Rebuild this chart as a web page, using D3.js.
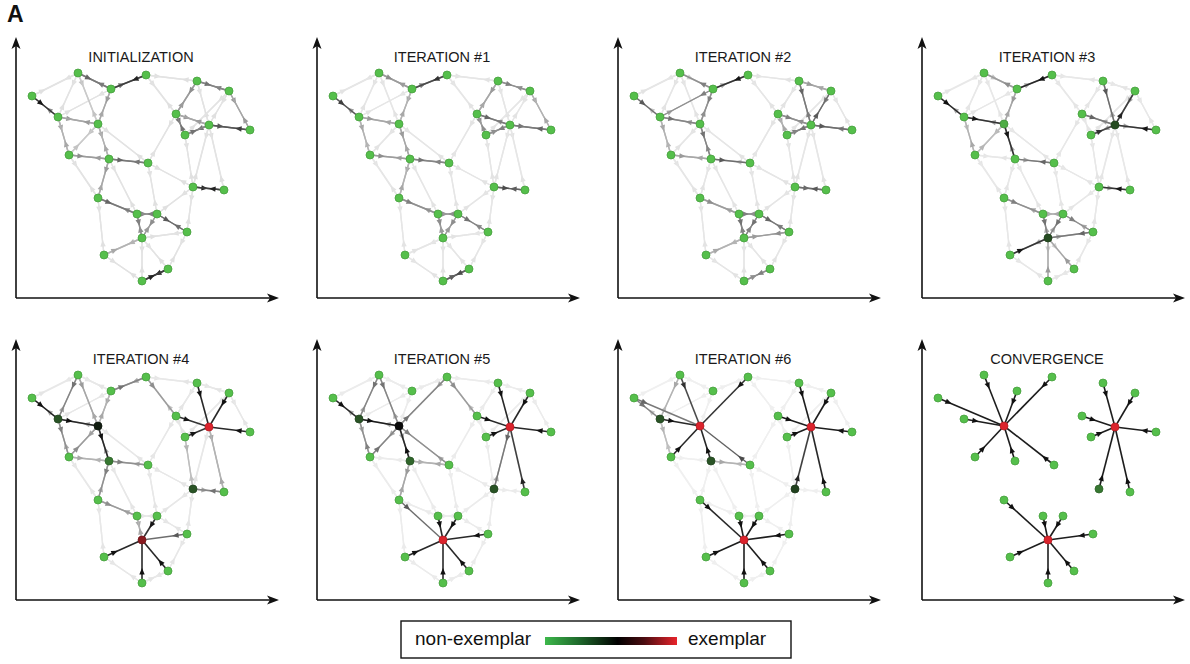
<!DOCTYPE html>
<html><head><meta charset="utf-8">
<script src="https://d3js.org/d3.v7.min.js"></script>
<style>body{margin:0;background:#fff}svg{display:block}text{font-family:"Liberation Sans",Arial,sans-serif}</style>
</head><body><svg id="c" width="1190" height="664"></svg>
<script>
// ---- data ----
const nodeIds = d3.range(1, 26);
const nodeX = [62,130,95,16,42,82,53,93,132,181,213,160,193,234,169,177,208,82,121,141,171,126,88,152,126];
const nodeY = [225,223,209,202,181,174,143,139,135,217,207,184,173,168,163,111,108,100,84,84,66,60,43,29,17];

const graphEdges = [[1,3],[2,3],[1,5],[1,4],[4,5],[5,6],[1,6],[3,6],[3,5],[5,7],[6,7],[6,8],[7,8],[8,9],[2,10],[2,12],
  [10,11],[10,12],[10,13],[11,13],[11,14],[12,15],[13,15],[13,14],[12,13],[9,16],[16,17],[13,16],[15,16],[13,17],[9,12],
  [8,18],[7,18],[18,19],[19,20],[20,21],[19,22],[20,22],[16,21],[21,22],[21,24],[22,24],[22,23],[23,25],[24,25],[18,23],
  [22,25],[9,20],[8,19],[16,20],[6,9],[11,15]];

const panelTitles = ["INITIALIZATION","ITERATION #1","ITERATION #2","ITERATION #3","ITERATION #4","ITERATION #5","ITERATION #6","CONVERGENCE"];
const defaultLevels = [0.09,0.08,0.08,0.07,0.07,0.05,0.035,0];

// node exemplar-ness: 0 = non-exemplar (green), 0.5 = black, 1 = exemplar (red)
const scoresInit  = [0,0,0,0,0,0,0,0,0,0,0,0,0,0,0,0,0,0,0,0,0,0,0,0,0];
const scoresIter1 = [0,0,0,0,0,0,0,0,0,0,0,0,0,0,0,0,0,0,0,0,0,0,0,0,0];
const scoresIter2 = [0,0,0,0,0,0,0,0,0,0,0,0,0,0,0,0,0,0,0,0,0,0,0,0,0];
const scoresIter3 = [0,0,0,0,0,0.05,0,0,0,0,0,0,0.32,0,0,0,0,0,0,0,0,0.32,0,0,0];
const scoresIter4 = [0,0,0,0,0.3,0.45,0,0.2,0,0,0,0,1,0,0,0.3,0,0,0,0,0,0.8,0,0,0];
const scoresIter5 = [0,0,0,0,0.3,0.5,0,0.25,0,0,0,0,1,0,0,0.3,0,0,0,0,0,1,0,0,0];
const scoresIter6 = [0,0,0,0,0.3,1,0,0.3,0,0,0,0,1,0,0,0.35,0,0,0,0,0,1,0,0,0];
const scoresConv  = [0,0,0,0,0,1,0,0,0,0,0,0,1,0,0,0.2,0,0,0,0,0,1,0,0,0];

// messages: [a, b, level a->b, level b->a]
const msgsInit = [[1,3,0.55,0.45],[2,3,0.8,0.5],[4,5,0.85,0.4],[5,6,0.35,0.35],[3,6,0.35,0.3],[1,6,0.2,0.2],[6,8,0.3,0.3],
  [5,7,0.3,0.3],[7,8,0.4,0.35],[8,9,0.55,0.5],[6,7,0.2,0.2],[10,11,0.5,0.45],[10,12,0.4,0.35],[12,15,0.5,0.5],[12,13,0.35,0.35],
  [13,15,0.5,0.5],[13,14,0.6,0.7],[11,14,0.35,0.35],[16,17,0.8,0.8],[8,18,0.35,0.3],[18,19,0.55,0.4],[19,20,0.45,0.45],
  [20,21,0.6,0.5],[19,22,0.45,0.4],[20,22,0.4,0.35],[24,25,0.8,0.8],[22,23,0.25,0.3]];
const msgsIter1 = [[1,3,0.4,0.35],[2,3,0.75,0.45],[4,5,0.7,0.35],[5,6,0.35,0.3],[3,6,0.3,0.3],[6,8,0.35,0.3],[5,7,0.3,0.25],
  [7,8,0.4,0.3],[8,9,0.5,0.45],[10,11,0.45,0.4],[10,12,0.35,0.3],[12,15,0.4,0.4],[12,13,0.55,0.4],[13,15,0.45,0.4],
  [13,14,0.5,0.55],[11,14,0.3,0.3],[16,17,0.65,0.6],[8,18,0.3,0.3],[18,19,0.45,0.35],[19,20,0.4,0.4],[20,21,0.5,0.4],
  [19,22,0.4,0.35],[20,22,0.4,0.35],[24,25,0.65,0.6]];
const msgsIter2 = [[2,3,0.85,0.3],[1,3,0.15,0.45],[3,5,0.45,0.3],[5,6,0.5,0.35],[3,6,0.45,0.4],[6,8,0.5,0.4],[7,8,0.35,0.3],
  [5,7,0.3,0.25],[8,9,0.6,0.2],[4,5,0.6,0.2],[10,13,0.55,0.45],[12,13,0.45,0.4],[13,14,0.6,0.45],[13,15,0.5,0.45],
  [11,13,0.45,0.6],[10,11,0.35,0.3],[16,17,0.55,0.6],[12,15,0.3,0.3],[18,19,0.4,0.3],[19,20,0.45,0.4],[20,21,0.55,0.45],
  [19,22,0.5,0.45],[20,22,0.5,0.45],[21,22,0.4,0.35],[24,25,0.45,0.4],[22,23,0.25,0.3]];
const msgsIter3 = [[2,3,0.9,0.3],[4,5,0.9,0.3],[5,6,0.85,0.35],[6,8,0.85,0.3],[8,9,0.3,0.55],[3,6,0.35,0.3],[1,3,0.2,0.4],
  [5,7,0.2,0.3],[6,7,0.25,0.25],[10,13,0.6,0.3],[11,13,0.3,0.8],[13,14,0.3,0.85],[12,13,0.55,0.3],[15,13,0.75,0.3],
  [16,17,0.3,0.85],[23,22,0.85,0.3],[21,22,0.55,0.3],[19,22,0.5,0.3],[20,22,0.5,0.3],[20,21,0.45,0.3],[18,19,0.45,0.3],
  [19,20,0.3,0.3],[22,25,0.15,0.35],[22,24,0.15,0.35]];
const msgsIter4 = [[4,5,0.95,0.3],[5,6,0.9,0.3],[6,8,0.9,0.3],[1,5,0.5,0.3],[1,6,0.35,0.3],[5,7,0.45,0.3],[7,6,0.4,0.3],
  [3,2,0.5,0.3],[8,9,0.45,0.3],[7,8,0.3,0.25],[3,6,0.3,0.3],[10,13,0.9,0],[11,13,0.9,0],[12,13,0.85,0],[14,13,0.9,0],
  [15,13,0.85,0],[2,12,0.4,0.2],[13,17,0.3,0.3],[17,16,0.5,0.3],[15,16,0.25,0.2],[23,22,0.9,0],[24,22,0.9,0],[25,22,0.9,0],
  [20,22,0.85,0],[21,22,0.6,0],[19,22,0.3,0.3],[18,19,0.4,0.3],[8,18,0.45,0.3]];
const msgsIter5 = [[4,5,0.9,0.3],[5,6,0.95,0.3],[8,6,0.9,0.3],[1,5,0.5,0.3],[1,6,0.5,0.3],[7,5,0.45,0.3],[7,6,0.5,0.3],
  [6,2,0.5,0.3],[6,9,0.45,0.3],[8,9,0.3,0.3],[8,18,0.35,0.3],[2,12,0.4,0.2],[10,13,0.9,0],[11,13,0.9,0],[12,13,0.9,0],
  [14,13,0.9,0],[15,13,0.9,0],[13,16,0.55,0.3],[17,13,0.8,0],[18,22,0.6,0],[19,22,0.9,0],[20,22,0.9,0],[21,22,0.9,0],
  [23,22,0.9,0],[24,22,0.9,0],[25,22,0.9,0]];
const msgsIter6 = [[1,6,0.75,0],[2,6,0.85,0],[4,6,0.55,0],[5,6,0.9,0],[7,6,0.9,0],[8,6,0.9,0],[9,6,0.65,0],[4,5,0.5,0.2],
  [1,5,0.3,0.2],[5,7,0.25,0.2],[8,9,0.3,0.2],[10,13,0.95,0],[11,13,0.95,0],[12,13,0.95,0],[14,13,0.95,0],[15,13,0.95,0],
  [16,13,0.8,0],[17,13,0.9,0],[18,22,0.9,0],[19,22,0.95,0],[20,22,0.95,0],[21,22,0.95,0],[23,22,0.95,0],[24,22,0.95,0],
  [25,22,0.95,0]];
const msgsConv = [[1,6,0.95,0],[2,6,0.95,0],[3,6,0.95,0],[4,6,0.95,0],[5,6,0.95,0],[7,6,0.95,0],[8,6,0.95,0],[9,6,0.95,0],
  [10,13,0.95,0],[11,13,0.95,0],[12,13,0.95,0],[14,13,0.95,0],[15,13,0.95,0],[16,13,0.95,0],[17,13,0.95,0],
  [18,22,0.95,0],[19,22,0.95,0],[20,22,0.95,0],[21,22,0.95,0],[23,22,0.95,0],[24,22,0.95,0],[25,22,0.95,0]];

const panelScores = [scoresInit,scoresIter1,scoresIter2,scoresIter3,scoresIter4,scoresIter5,scoresIter6,scoresConv];
const panelMsgs = [msgsInit,msgsIter1,msgsIter2,msgsIter3,msgsIter4,msgsIter5,msgsIter6,msgsConv];
const legendLabels = ["non-exemplar","exemplar"];

// ---- layout ----
const svg = d3.select("#c");
const colOffsets = [0,301,602,906], rowOffsets = [0,302];
const xScale = d3.scaleLinear().domain([0,260]).range([16,276]);
const yScale = d3.scaleLinear().domain([0,260]).range([298,38]);
const nodeColor = d3.scaleLinear().domain([0,0.5,1]).range(["#55bf4b","#0b0b0b","#db232c"]);
const grayColor = d3.scaleLinear().domain([0,1]).range(["#f8f8f8","#111111"]);

svg.append("text").attr("x",7).attr("y",22).attr("font-size",23).attr("font-weight","bold").attr("fill","#111").text("A");

panelTitles.forEach((title, p) => {
  const g = svg.append("g").attr("transform", `translate(${colOffsets[p%4]},${rowOffsets[Math.floor(p/4)]})`);
  const x0 = xScale.range()[0], y0 = yScale.range()[0];
  const xEnd = xScale.range()[1] + 3, yEnd = yScale.range()[1] - 1;
  // axes
  g.append("line").attr("x1",x0).attr("y1",y0).attr("x2",x0).attr("y2",yEnd+6).attr("stroke","#111").attr("stroke-width",1.6);
  g.append("line").attr("x1",x0).attr("y1",y0).attr("x2",xEnd-6).attr("y2",y0).attr("stroke","#111").attr("stroke-width",1.6);
  g.append("path").attr("d",`M${x0},${yEnd} L${x0-4.5},${yEnd+12} L${x0},${yEnd+9} L${x0+4.5},${yEnd+12} Z`).attr("fill","#111");
  g.append("path").attr("d",`M${xEnd},${y0} L${xEnd-12},${y0-4.5} L${xEnd-9},${y0} L${xEnd-12},${y0+4.5} Z`).attr("fill","#111");
  g.append("text").attr("x",141).attr("y",62).attr("text-anchor","middle").attr("font-size",14.5).attr("fill","#1a1a1a").text(title);

  // build directed messages
  const lev = new Map();
  const key = (a,b) => a+"-"+b;
  graphEdges.forEach(([a,b]) => { lev.set(key(a,b), defaultLevels[p]); lev.set(key(b,a), defaultLevels[p]); });
  panelMsgs[p].forEach(([a,b,lab,lba]) => { lev.set(key(a,b), lab); lev.set(key(b,a), lba); });
  const msgs = [];
  lev.forEach((v,k) => { if (v > 0) { const [a,b] = k.split("-").map(Number); msgs.push({a,b,v}); } });
  msgs.sort((m,n) => m.v - n.v);

  const px = i => xScale(nodeX[i-1]), py = i => yScale(nodeY[i-1]);
  const eg = g.append("g");
  msgs.forEach(m => {
    const sx = px(m.a), sy = py(m.a), tx = px(m.b), ty = py(m.b);
    const L = Math.hypot(tx-sx, ty-sy), ux = (tx-sx)/L, uy = (ty-sy)/L;
    const c = grayColor(m.v);
    eg.append("line").attr("x1",sx).attr("y1",sy).attr("x2",tx).attr("y2",ty)
      .attr("stroke",c).attr("stroke-width", m.v > 0.7 ? 1.6 : 1.4);
    const d = Math.min(15, 0.5*L);
    const tipx = sx + ux*d, tipy = sy + uy*d;
    const bx = tipx - ux*6.5, by = tipy - uy*6.5;
    eg.append("path").attr("d",`M${tipx},${tipy} L${bx - uy*2.7},${by + ux*2.7} L${bx + uy*2.7},${by - ux*2.7} Z`)
      .attr("fill", grayColor(Math.min(1, m.v*1.15)));
  });
  // nodes
  g.append("g").selectAll("circle").data(nodeIds).join("circle")
    .attr("cx", i => px(i)).attr("cy", i => py(i)).attr("r", 4)
    .attr("fill", i => nodeColor(panelScores[p][i-1]))
    .attr("stroke", i => d3.color(nodeColor(panelScores[p][i-1])).darker(0.5))
    .attr("stroke-width", 0.8);
});

// legend
const lg = svg.append("g");
lg.append("rect").attr("x",401).attr("y",621).attr("width",390).attr("height",37).attr("fill","#fff").attr("stroke","#111").attr("stroke-width",1.4);
const grad = svg.append("defs").append("linearGradient").attr("id","cg");
[[0,"#3db84b"],[0.25,"#1f6b2c"],[0.55,"#000"],[0.75,"#4a0c10"],[1,"#e8232b"]].forEach(([o,c]) =>
  grad.append("stop").attr("offset", o).attr("stop-color", c));
lg.append("rect").attr("x",545).attr("y",637).attr("width",132).attr("height",8).attr("fill","url(#cg)");
lg.append("text").attr("x",415).attr("y",645).attr("font-size",19).attr("fill","#111").text(legendLabels[0]);
lg.append("text").attr("x",688).attr("y",645).attr("font-size",19).attr("fill","#111").text(legendLabels[1]);
</script></body></html>
